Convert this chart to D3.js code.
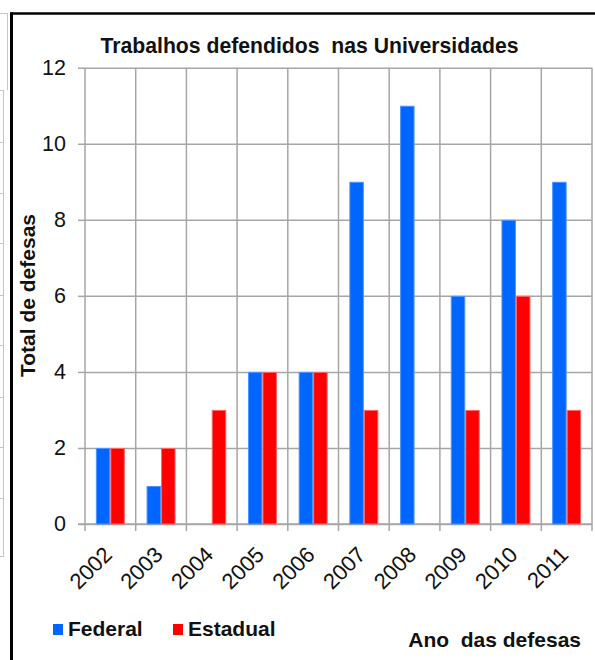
<!DOCTYPE html>
<html>
<head>
<meta charset="utf-8">
<script src="https://cdn.jsdelivr.net/npm/d3@7/dist/d3.min.js"></script>
<style>
  html, body { margin: 0; padding: 0; background: #fff; }
  svg { display: block; font-family: "Liberation Sans", Arial, sans-serif; }
</style>
</head>
<body>
<div id="chart"></div>
<script>
  // Chart data
  const years = ['2002', '2003', '2004', '2005', '2006', '2007', '2008', '2009', '2010', '2011'];
  const federal = [2, 1, 0, 4, 4, 9, 11, 6, 8, 9];
  const estadual = [2, 2, 3, 4, 4, 3, 0, 3, 6, 3];
  const seriesNames = ['Federal', 'Estadual'];
  const yTicks = [0, 2, 4, 6, 8, 10, 12];

  const COLORS = { Federal: '#0066ff', Estadual: '#ff0000' };
  const EDGE = { Federal: '#4d94ff', Estadual: '#ff6666' };
  const GRID = '#a6a6a6';

  const width = 595, height = 660;
  const plot = { left: 85, right: 592, top: 67.7, bottom: 524 };

  const svg = d3.select('#chart').append('svg')
    .attr('width', width)
    .attr('height', height);

  // faint cells of the neighbouring sheet on the far left
  const ghost = svg.append('g').attr('stroke', '#c4c4c4').attr('stroke-width', 1);
  ghost.append('line').attr('x1', 0).attr('x2', 8).attr('y1', 13.5).attr('y2', 13.5);
  ghost.append('line').attr('x1', 7.5).attr('x2', 7.5).attr('y1', 13.5).attr('y2', 90);
  ghost.append('line').attr('x1', 3.5).attr('x2', 3.5).attr('y1', 90).attr('y2', 556);
  [90, 142, 193, 243, 295, 345, 397, 447, 498, 556].forEach(yy => {
    ghost.append('line').attr('x1', 0).attr('x2', 4).attr('y1', yy + 0.5).attr('y2', yy + 0.5);
  });

  // chart frame (top and left edges only are visible)
  svg.append('line').attr('x1', 10).attr('x2', width).attr('y1', 13.5).attr('y2', 13.5)
    .attr('stroke', '#000').attr('stroke-width', 2.5);
  svg.append('line').attr('x1', 11.5).attr('x2', 11.5).attr('y1', 12.5).attr('y2', height)
    .attr('stroke', '#000').attr('stroke-width', 3);

  // Scales
  const x = d3.scaleBand().domain(years).range([plot.left, plot.right]).padding(0);
  const xs = d3.scaleBand().domain(seriesNames).range([0, x.bandwidth()])
    .paddingInner(0).paddingOuter(0.75);
  const y = d3.scaleLinear().domain([0, 12]).range([plot.bottom, plot.top]);

  // Horizontal gridlines
  svg.append('g')
    .attr('transform', 'translate(' + plot.left + ',0)')
    .call(d3.axisLeft(y).tickValues(yTicks).tickSizeInner(-(plot.right - plot.left)).tickSizeOuter(0).tickFormat(''))
    .call(g => g.select('.domain').remove())
    .call(g => g.selectAll('line').attr('stroke', GRID).attr('stroke-width', 1.5));

  // left ticks + labels
  const yAxis = svg.append('g')
    .attr('transform', 'translate(' + plot.left + ',0)')
    .call(d3.axisLeft(y).tickValues(yTicks).tickSizeInner(7).tickSizeOuter(0).tickPadding(12))
    .call(g => g.select('.domain').remove());
  yAxis.selectAll('line').attr('stroke', GRID).attr('stroke-width', 1.5);
  yAxis.selectAll('text')
    .attr('font-family', '"Liberation Sans", Arial, sans-serif')
    .attr('font-size', '21.5px')
    .attr('fill', '#111');

  // Vertical gridlines at category boundaries, running down as x ticks
  const bounds = years.map(d => x(d)).concat([plot.right]);
  svg.append('g').selectAll('line')
    .data(bounds)
    .join('line')
    .attr('x1', d => d).attr('x2', d => d)
    .attr('y1', plot.top).attr('y2', plot.bottom + 7)
    .attr('stroke', GRID).attr('stroke-width', 1.5);

  // x axis baseline
  svg.append('line')
    .attr('x1', plot.left - 7).attr('x2', plot.right)
    .attr('y1', y(0)).attr('y2', y(0))
    .attr('stroke', GRID).attr('stroke-width', 1.5);

  // Bars
  const rows = years.map((yr, i) => ({ year: yr, Federal: federal[i], Estadual: estadual[i] }));
  const groups = svg.append('g').selectAll('g')
    .data(rows)
    .join('g')
    .attr('transform', d => 'translate(' + x(d.year) + ',0)');

  groups.selectAll('rect')
    .data(d => seriesNames.map(s => ({ key: s, value: d[s] })).filter(v => v.value > 0))
    .join('rect')
    .attr('x', d => xs(d.key) + 0.5)
    .attr('width', xs.bandwidth() - 1)
    .attr('y', d => y(d.value) + 0.5)
    .attr('height', d => y(0) - y(d.value) - 0.5)
    .attr('fill', d => COLORS[d.key])
    .attr('stroke', d => EDGE[d.key])
    .attr('stroke-width', 1);

  // Rotated year labels
  svg.append('g').selectAll('text')
    .data(years)
    .join('text')
    .attr('transform', d => 'translate(' + (x(d) + x.bandwidth() / 2 + 3) + ',' + (plot.bottom + 32) + ') rotate(-45)')
    .attr('text-anchor', 'end')
    .attr('font-size', '22px')
    .attr('fill', '#111')
    .text(d => d);

  // Title
  svg.append('text')
    .attr('x', 309.5)
    .attr('y', 53)
    .attr('text-anchor', 'middle')
    .attr('font-size', '21.2px')
    .attr('font-weight', 'bold')
    .attr('fill', '#111')
    .style('white-space', 'pre')
    .text('Trabalhos defendidos  nas Universidades');

  // Y axis title
  svg.append('text')
    .attr('transform', 'translate(35,295.5) rotate(-90)')
    .attr('text-anchor', 'middle')
    .attr('font-size', '21px')
    .attr('font-weight', 'bold')
    .attr('fill', '#111')
    .text('Total de defesas');

  // X axis title
  svg.append('text')
    .attr('x', 581)
    .attr('y', 646.5)
    .attr('text-anchor', 'end')
    .attr('font-size', '21px')
    .attr('font-weight', 'bold')
    .attr('fill', '#111')
    .style('white-space', 'pre')
    .text('Ano  das defesas');

  // Legend
  const legendPos = [{ key: 'Federal', x: 53 }, { key: 'Estadual', x: 173 }];
  const legend = svg.append('g').selectAll('g')
    .data(legendPos)
    .join('g')
    .attr('transform', d => 'translate(' + d.x + ',624)');

  legend.append('rect')
    .attr('width', 10)
    .attr('height', 11)
    .attr('fill', d => COLORS[d.key]);

  legend.append('text')
    .attr('x', 15)
    .attr('y', 12)
    .attr('font-size', '21px')
    .attr('font-weight', 'bold')
    .attr('fill', '#111')
    .text(d => d.key);
</script>
</body>
</html>
